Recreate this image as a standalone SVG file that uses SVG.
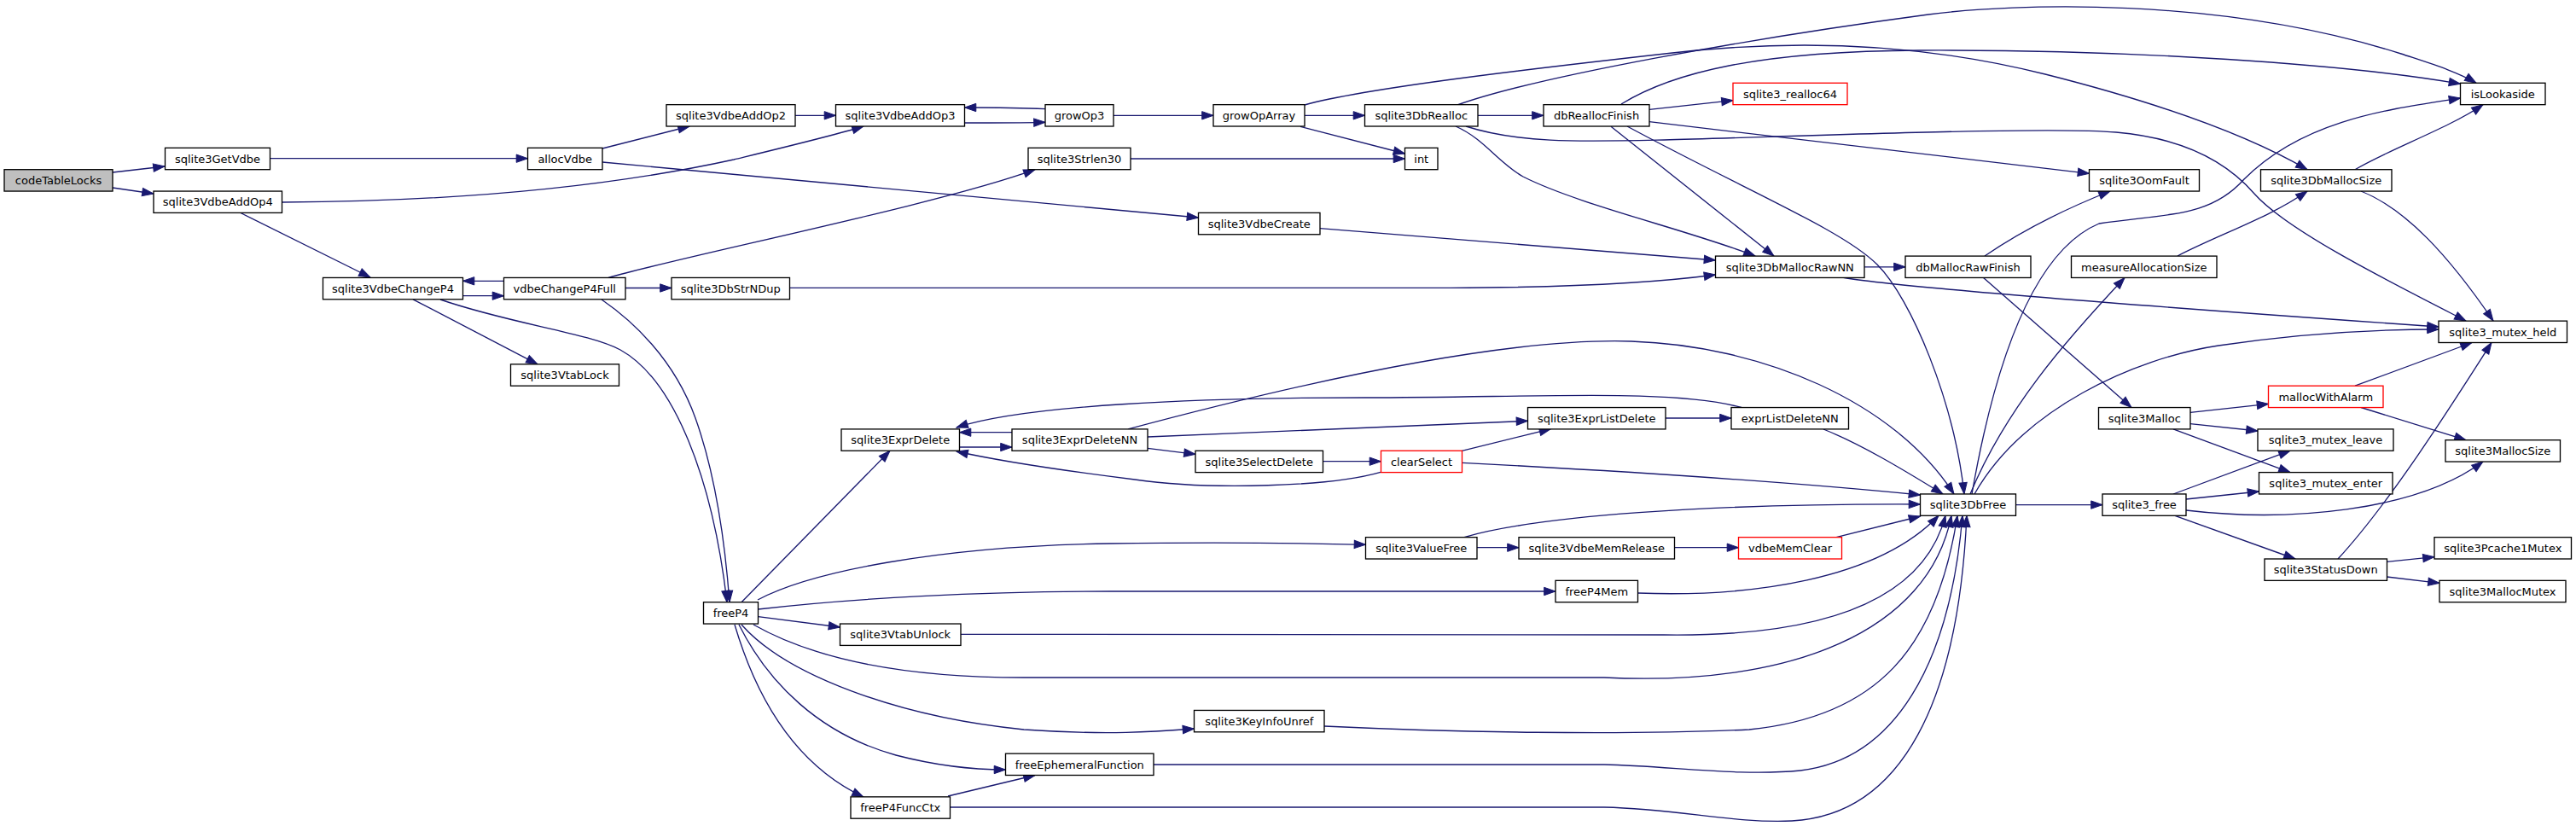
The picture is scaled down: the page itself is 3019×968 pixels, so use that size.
<svg xmlns="http://www.w3.org/2000/svg" width="3019" height="968" viewBox="0 0 3019 968">
<style>
.node rect{fill:#ffffff;stroke:#000000;stroke-width:1.33}
.node.root rect{fill:#bfbfbf}
.node.red rect{stroke:#ff0000}
.node text{font-family:"DejaVu Sans","Liberation Sans",sans-serif;font-size:13px;text-anchor:middle;fill:#000000}
#edges path{fill:none;stroke:#191970;stroke-width:1.33;marker-end:url(#arr)}
</style>
<defs>
<marker id="arr" markerUnits="userSpaceOnUse" markerWidth="14" markerHeight="10" refX="13.3" refY="4.67" orient="auto" overflow="visible">
<path d="M0,0 L13.3,4.67 L0,9.33 z" fill="#191970" stroke="#191970" stroke-width="1"/>
</marker>
</defs>
<rect width="3019" height="968" fill="#ffffff"/>
<g id="edges">
<path d="M132,202 L193,195"/>
<path d="M132,220 L180,227"/>
<path d="M316.5,185.7 L618.5,185.7"/>
<path d="M706,174 L808,148"/>
<path d="M706,190 L1404.5,255"/>
<path d="M331,237 C520,236 700,222 860,187 C930,170 980,158 1012,148"/>
<path d="M281,249 L434,325"/>
<path d="M932,135.3 L979.5,135.3"/>
<path d="M1130.5,144 C1160,144 1190,144 1225,143.3"/>
<path d="M1225,127.7 C1190,126 1160,126 1130.5,126"/>
<path d="M1305,135.3 L1422,135.3"/>
<path d="M1529,135.3 L1599.5,135.3"/>
<path d="M1524,148.3 L1646.5,180"/>
<path d="M1325,186 L1646.5,186"/>
<path d="M1529,123 C1600,103 1800,80 1960,62 C2100,46 2250,50 2397,87 C2500,113 2620,150 2704,198.7"/>
<path d="M1708,123 C1800,90 2050,45 2260,17 C2360,4 2600,-5 2814,63 C2850,75 2880,84 2902,97.3"/>
<path d="M1732,135.3 L1809,135.3"/>
<path d="M1718,148 C1780,168 1850,166 1950,164 C2100,160 2400,148 2480,155 C2560,162 2610,190 2642,227 C2680,270 2800,330 2890,376"/>
<path d="M1706,148 C1740,163 1755,190 1785,207 C1850,240 1980,270 2057,300"/>
<path d="M1933,128.3 L2031,117.7"/>
<path d="M1900,122 C1960,85 2060,60 2250,59 C2500,58 2750,75 2883.5,98.3"/>
<path d="M1888,148.3 L2079,300"/>
<path d="M1933,142.7 L2448.5,203.3"/>
<path d="M1907,148 C2050,225 2160,270 2200,310 C2240,350 2290,470 2302,579"/>
<path d="M2185,312.8 L2233,312.8"/>
<path d="M2159,325 C2230,338 2600,365 2858,383"/>
<path d="M2326,300 C2370,270 2420,245 2473,224"/>
<path d="M2324,325 L2498,477.5"/>
<path d="M2760,198.7 C2800,175 2870,150 2910,122.7"/>
<path d="M2767,224 C2820,245 2870,300 2922,376"/>
<path d="M2552,300 C2600,275 2660,255 2704,224"/>
<path d="M2311,579 C2330,470 2370,300 2460,262 C2540,250 2590,255 2630,210 C2700,140 2800,128 2883.5,115"/>
<path d="M2309,579 C2350,480 2420,400 2490,325.5"/>
<path d="M2314,579 C2370,480 2500,420 2600,405 C2700,390 2780,386 2858,386"/>
<path d="M2362.5,591.6 L2464,591.6"/>
<path d="M2567,483.3 L2658.5,473.3"/>
<path d="M2567,496.7 L2646,505"/>
<path d="M2547,502.9 L2684,553.6"/>
<path d="M2760,452.2 L2897,401.5"/>
<path d="M2767,477.5 L2890,515.7"/>
<path d="M2547,579 L2684,528.2"/>
<path d="M2562,585 L2647.5,576"/>
<path d="M2562,598 C2680,612 2830,600 2910,541"/>
<path d="M2549,604.3 L2690,655"/>
<path d="M2740,655 C2800,590 2870,480 2920,401.5"/>
<path d="M2797.3,658.3 L2853,652.7"/>
<path d="M2797.3,676 L2859,683.3"/>
<path d="M1124.5,524 L1186,524"/>
<path d="M1186,506.7 L1124.5,506.7"/>
<path d="M1345,525.3 L1401,532.3"/>
<path d="M1345,512 C1500,505 1650,498 1790.5,493.3"/>
<path d="M1322,502.9 C1520,450 1760,395 1912,400 C2064,405 2220,470 2290,579"/>
<path d="M1550.5,540.7 L1618.5,540.7"/>
<path d="M1713.3,528.3 L1817.5,502.7"/>
<path d="M1713.5,542.3 C1900,552 2100,565 2250.5,580"/>
<path d="M1618,553.3 C1560,570 1420,575 1330,562 C1250,552 1170,540 1121,529"/>
<path d="M1952,490 L2029,490"/>
<path d="M2041,477.5 C1960,455 1800,466 1600,466 C1400,466 1200,475 1121,501"/>
<path d="M2137,503 C2180,520 2230,550 2277,579"/>
<path d="M1731,641.7 L1780,641.7"/>
<path d="M1962.5,641.7 L2037.5,641.7"/>
<path d="M2152,629.6 L2250.5,605"/>
<path d="M1716,629.6 C1800,605 2000,590 2250.5,591"/>
<path d="M888,703 C950,670 1100,640 1300,637 C1450,635 1550,637 1600.5,638.3"/>
<path d="M888.5,714 C1000,701 1150,693 1300,693 L1823,693"/>
<path d="M888.5,722.7 L984.5,735"/>
<path d="M1126,743.3 L1950,744 C2100,746 2250,720 2280,604.3"/>
<path d="M1919.5,695 C2050,700 2200,680 2272,604.3"/>
<path d="M883,732 C950,770 1050,794 1200,794 L1880,794 C2100,805 2260,740 2287,604.3"/>
<path d="M1552,851 C1700,858 1900,862 2050,855 C2200,840 2270,760 2294,604.3"/>
<path d="M1352,896 L1880,896 C1960,898 2040,910 2110,903 C2220,890 2285,780 2300,604.3"/>
<path d="M1113.5,946 L1880,946 C1970,948 2030,965 2100,962 C2230,955 2295,820 2305,604.3"/>
<path d="M869,732 C920,790 1050,840 1200,855 C1300,862 1360,857 1399.5,854"/>
<path d="M866,732 C900,800 960,860 1050,885 C1100,898 1140,902 1178.5,902"/>
<path d="M861,732 C890,830 940,900 1012,934"/>
<path d="M1111,933 L1213,908.5"/>
<path d="M869,705.7 L1043,528.3"/>
<path d="M542.5,346.7 L590.5,346.7"/>
<path d="M590.5,329.3 L542.5,329.3"/>
<path d="M484,350.8 L630,426.8"/>
<path d="M516,351 C600,380 690,390 727,410 C790,445 835,560 852,705.7"/>
<path d="M705,351 C740,375 790,420 815,490 C840,560 850,640 855,705.7"/>
<path d="M733,337.5 L787,337.5"/>
<path d="M713,325.5 C800,300 1100,240 1213,198.7"/>
<path d="M925.5,337.3 L1700,337.3 C1850,337 1950,330 2010.5,322"/>
<path d="M1547,267.7 L2010.5,305"/>
</g>
<g id="n_codeTableLocks" class="node root"><rect x="5" y="198.7" width="127" height="25.35"/><text x="68.5" y="216.1">codeTableLocks</text></g>
<g id="n_sqlite3GetVdbe" class="node"><rect x="193.5" y="173.35" width="123" height="25.35"/><text x="255" y="190.75">sqlite3GetVdbe</text></g>
<g id="n_sqlite3VdbeAddOp4" class="node"><rect x="180" y="224.05" width="150.5" height="25.35"/><text x="255.25" y="241.45">sqlite3VdbeAddOp4</text></g>
<g id="n_allocVdbe" class="node"><rect x="618.5" y="173.35" width="87.5" height="25.35"/><text x="662.25" y="190.75">allocVdbe</text></g>
<g id="n_sqlite3VdbeChangeP4" class="node"><rect x="378.5" y="325.45" width="164" height="25.35"/><text x="460.5" y="342.85">sqlite3VdbeChangeP4</text></g>
<g id="n_vdbeChangeP4Full" class="node"><rect x="590.5" y="325.45" width="142.5" height="25.35"/><text x="661.75" y="342.85">vdbeChangeP4Full</text></g>
<g id="n_sqlite3VtabLock" class="node"><rect x="598.5" y="426.85" width="127" height="25.35"/><text x="662" y="444.25">sqlite3VtabLock</text></g>
<g id="n_sqlite3VdbeAddOp2" class="node"><rect x="781" y="122.65" width="151" height="25.35"/><text x="856.5" y="140.05">sqlite3VdbeAddOp2</text></g>
<g id="n_sqlite3VdbeAddOp3" class="node"><rect x="979.5" y="122.65" width="151" height="25.35"/><text x="1055" y="140.05">sqlite3VdbeAddOp3</text></g>
<g id="n_growOp3" class="node"><rect x="1225" y="122.65" width="80" height="25.35"/><text x="1265" y="140.05">growOp3</text></g>
<g id="n_growOpArray" class="node"><rect x="1422" y="122.65" width="107" height="25.35"/><text x="1475.5" y="140.05">growOpArray</text></g>
<g id="n_sqlite3Strlen30" class="node"><rect x="1205" y="173.35" width="120" height="25.35"/><text x="1265" y="190.75">sqlite3Strlen30</text></g>
<g id="n_sqlite3VdbeCreate" class="node"><rect x="1404.5" y="249.4" width="142.5" height="25.35"/><text x="1475.75" y="266.8">sqlite3VdbeCreate</text></g>
<g id="n_sqlite3DbStrNDup" class="node"><rect x="787" y="325.45" width="138.5" height="25.35"/><text x="856.25" y="342.85">sqlite3DbStrNDup</text></g>
<g id="n_sqlite3DbRealloc" class="node"><rect x="1599.5" y="122.65" width="132.5" height="25.35"/><text x="1665.75" y="140.05">sqlite3DbRealloc</text></g>
<g id="n_dbReallocFinish" class="node"><rect x="1809" y="122.65" width="124" height="25.35"/><text x="1871" y="140.05">dbReallocFinish</text></g>
<g id="n_sqlite3_realloc64" class="node red"><rect x="2031" y="97.3" width="134" height="25.35"/><text x="2098" y="114.7">sqlite3_realloc64</text></g>
<g id="n_int" class="node"><rect x="1646.5" y="173.35" width="38.5" height="25.35"/><text x="1665.75" y="190.75">int</text></g>
<g id="n_sqlite3DbMallocRawNN" class="node"><rect x="2010.5" y="300.1" width="174.5" height="25.35"/><text x="2097.75" y="317.5">sqlite3DbMallocRawNN</text></g>
<g id="n_dbMallocRawFinish" class="node"><rect x="2233" y="300.1" width="147" height="25.35"/><text x="2306.5" y="317.5">dbMallocRawFinish</text></g>
<g id="n_isLookaside" class="node"><rect x="2883.5" y="97.3" width="99.5" height="25.35"/><text x="2933.25" y="114.7">isLookaside</text></g>
<g id="n_sqlite3OomFault" class="node"><rect x="2448.5" y="198.7" width="129" height="25.35"/><text x="2513" y="216.1">sqlite3OomFault</text></g>
<g id="n_sqlite3DbMallocSize" class="node"><rect x="2649.5" y="198.7" width="153.5" height="25.35"/><text x="2726.25" y="216.1">sqlite3DbMallocSize</text></g>
<g id="n_measureAllocationSize" class="node"><rect x="2427.5" y="300.1" width="170.5" height="25.35"/><text x="2512.75" y="317.5">measureAllocationSize</text></g>
<g id="n_sqlite3_mutex_held" class="node"><rect x="2858" y="376.15" width="150.5" height="25.35"/><text x="2933.25" y="393.55">sqlite3_mutex_held</text></g>
<g id="n_mallocWithAlarm" class="node red"><rect x="2658.5" y="452.2" width="134.5" height="25.35"/><text x="2725.75" y="469.6">mallocWithAlarm</text></g>
<g id="n_sqlite3Malloc" class="node"><rect x="2459.5" y="477.55" width="107.5" height="25.35"/><text x="2513.25" y="494.95">sqlite3Malloc</text></g>
<g id="n_sqlite3_mutex_leave" class="node"><rect x="2646" y="502.9" width="159" height="25.35"/><text x="2725.5" y="520.3">sqlite3_mutex_leave</text></g>
<g id="n_sqlite3_mutex_enter" class="node"><rect x="2647.5" y="553.6" width="156.5" height="25.35"/><text x="2725.75" y="571">sqlite3_mutex_enter</text></g>
<g id="n_sqlite3MallocSize" class="node"><rect x="2866" y="515.7" width="134.5" height="25.35"/><text x="2933.25" y="533.1">sqlite3MallocSize</text></g>
<g id="n_sqlite3DbFree" class="node"><rect x="2250.5" y="578.95" width="112" height="25.35"/><text x="2306.5" y="596.35">sqlite3DbFree</text></g>
<g id="n_sqlite3_free" class="node"><rect x="2464" y="578.95" width="98" height="25.35"/><text x="2513" y="596.35">sqlite3_free</text></g>
<g id="n_sqlite3Pcache1Mutex" class="node"><rect x="2853" y="629.65" width="160.5" height="25.35"/><text x="2933.25" y="647.05">sqlite3Pcache1Mutex</text></g>
<g id="n_sqlite3StatusDown" class="node"><rect x="2654" y="655" width="143.5" height="25.35"/><text x="2725.75" y="672.4">sqlite3StatusDown</text></g>
<g id="n_sqlite3MallocMutex" class="node"><rect x="2859" y="680.35" width="148" height="25.35"/><text x="2933" y="697.75">sqlite3MallocMutex</text></g>
<g id="n_sqlite3ExprDelete" class="node"><rect x="986" y="502.9" width="138.5" height="25.35"/><text x="1055.25" y="520.3">sqlite3ExprDelete</text></g>
<g id="n_sqlite3ExprDeleteNN" class="node"><rect x="1186" y="502.9" width="159" height="25.35"/><text x="1265.5" y="520.3">sqlite3ExprDeleteNN</text></g>
<g id="n_sqlite3SelectDelete" class="node"><rect x="1401" y="528.25" width="149.5" height="25.35"/><text x="1475.75" y="545.65">sqlite3SelectDelete</text></g>
<g id="n_sqlite3ExprListDelete" class="node"><rect x="1790.5" y="477.55" width="161.5" height="25.35"/><text x="1871.25" y="494.95">sqlite3ExprListDelete</text></g>
<g id="n_exprListDeleteNN" class="node"><rect x="2029" y="477.55" width="137.5" height="25.35"/><text x="2097.75" y="494.95">exprListDeleteNN</text></g>
<g id="n_clearSelect" class="node red"><rect x="1618.5" y="528.25" width="95" height="25.35"/><text x="1666" y="545.65">clearSelect</text></g>
<g id="n_sqlite3ValueFree" class="node"><rect x="1600.5" y="629.65" width="130.5" height="25.35"/><text x="1665.75" y="647.05">sqlite3ValueFree</text></g>
<g id="n_sqlite3VdbeMemRelease" class="node"><rect x="1780" y="629.65" width="182.5" height="25.35"/><text x="1871.25" y="647.05">sqlite3VdbeMemRelease</text></g>
<g id="n_vdbeMemClear" class="node red"><rect x="2037.5" y="629.65" width="121" height="25.35"/><text x="2098" y="647.05">vdbeMemClear</text></g>
<g id="n_freeP4" class="node"><rect x="824.5" y="705.7" width="64" height="25.35"/><text x="856.5" y="723.1">freeP4</text></g>
<g id="n_sqlite3VtabUnlock" class="node"><rect x="984.5" y="731.05" width="141.5" height="25.35"/><text x="1055.25" y="748.45">sqlite3VtabUnlock</text></g>
<g id="n_sqlite3KeyInfoUnref" class="node"><rect x="1399.5" y="832.45" width="152.5" height="25.35"/><text x="1475.75" y="849.85">sqlite3KeyInfoUnref</text></g>
<g id="n_freeEphemeralFunction" class="node"><rect x="1178.5" y="883.15" width="173.5" height="25.35"/><text x="1265.25" y="900.55">freeEphemeralFunction</text></g>
<g id="n_freeP4FuncCtx" class="node"><rect x="997" y="933.85" width="116.5" height="25.35"/><text x="1055.25" y="951.25">freeP4FuncCtx</text></g>
<g id="n_freeP4Mem" class="node"><rect x="1823" y="680.35" width="96.5" height="25.35"/><text x="1871.25" y="697.75">freeP4Mem</text></g>
</svg>
